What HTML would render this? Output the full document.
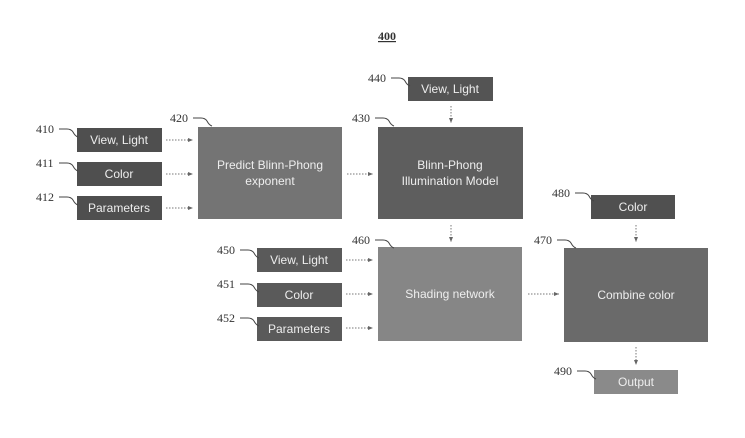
<!DOCTYPE html>
<html><head><style>
html,body{margin:0;padding:0;background:#fff;}
svg{display:block;}
.s{font-family:"Liberation Sans",sans-serif;font-size:12px;fill:#eee;text-anchor:middle;}
.n{font-family:"Liberation Serif",serif;font-size:12px;fill:#333;}
.l{fill:none;stroke:#444;stroke-width:1;}
.a{stroke:#777;stroke-width:1;stroke-dasharray:1.5 1.5;fill:none;}
</style></head><body>
<svg width="745" height="438" viewBox="0 0 745 438">
<defs><marker id="m" markerWidth="6" markerHeight="6" refX="5" refY="3" orient="auto"><path d="M0,1 L5,3 L0,5 z" fill="#666"/></marker></defs>
<text x="387" y="40" class="n" font-weight="bold" text-anchor="middle" font-size="11" text-decoration="underline">400</text>

<!-- boxes -->
<rect x="77" y="128" width="85" height="24" fill="#4f4f4f"/><text x="119" y="144" class="s">View, Light</text>
<rect x="77" y="162" width="85" height="24" fill="#4f4f4f"/><text x="119" y="178" class="s">Color</text>
<rect x="77" y="196" width="85" height="24" fill="#4f4f4f"/><text x="119" y="212" class="s">Parameters</text>
<rect x="198" y="127" width="144" height="92" fill="#747474"/>
<text x="270" y="169" class="s">Predict Blinn-Phong</text><text x="270" y="185" class="s">exponent</text>
<rect x="378" y="127" width="145" height="92" fill="#5e5e5e"/>
<text x="450" y="169" class="s">Blinn-Phong</text><text x="450" y="185" class="s">Illumination Model</text>
<rect x="408" y="77" width="85" height="24" fill="#545454"/><text x="450" y="93" class="s">View, Light</text>

<rect x="257" y="248" width="85" height="24" fill="#5a5a5a"/><text x="299" y="264" class="s">View, Light</text>
<rect x="257" y="283" width="85" height="24" fill="#5a5a5a"/><text x="299" y="299" class="s">Color</text>
<rect x="257" y="317" width="85" height="24" fill="#5a5a5a"/><text x="299" y="333" class="s">Parameters</text>
<rect x="378" y="247" width="144" height="94" fill="#868686"/><text x="450" y="298" class="s">Shading network</text>
<rect x="564" y="248" width="144" height="94" fill="#6a6a6a"/><text x="636" y="299" class="s">Combine color</text>
<rect x="591" y="195" width="84" height="24" fill="#505050"/><text x="633" y="211" class="s">Color</text>
<rect x="594" y="370" width="84" height="24" fill="#8a8a8a"/><text x="636" y="386" class="s">Output</text>

<!-- arrows -->
<line x1="166" y1="140" x2="193" y2="140" class="a" marker-end="url(#m)"/>
<line x1="166" y1="174" x2="193" y2="174" class="a" marker-end="url(#m)"/>
<line x1="166" y1="208" x2="193" y2="208" class="a" marker-end="url(#m)"/>
<line x1="347" y1="174" x2="373" y2="174" class="a" marker-end="url(#m)"/>
<line x1="451" y1="106" x2="451" y2="123" class="a" marker-end="url(#m)"/>
<line x1="451" y1="225" x2="451" y2="242" class="a" marker-end="url(#m)"/>
<line x1="346" y1="260" x2="373" y2="260" class="a" marker-end="url(#m)"/>
<line x1="346" y1="294" x2="373" y2="294" class="a" marker-end="url(#m)"/>
<line x1="346" y1="328" x2="373" y2="328" class="a" marker-end="url(#m)"/>
<line x1="528" y1="294" x2="559" y2="294" class="a" marker-end="url(#m)"/>
<line x1="636" y1="225" x2="636" y2="242" class="a" marker-end="url(#m)"/>
<line x1="636" y1="347" x2="636" y2="365" class="a" marker-end="url(#m)"/>

<!-- labels -->
<text x="36" y="133" class="n">410</text><path d="M59,129 h8 q4,0 6,3 q2,4 5,5" class="l"/>
<text x="36" y="167" class="n">411</text><path d="M59,163 h8 q4,0 6,3 q2,4 5,5" class="l"/>
<text x="36" y="201" class="n">412</text><path d="M59,197 h8 q4,0 6,3 q2,4 5,5" class="l"/>
<text x="170" y="122" class="n">420</text><path d="M193,118 h8 q4,0 6,3 q2,4 5,5" class="l"/>
<text x="352" y="122" class="n">430</text><path d="M375,118 h8 q4,0 6,3 q2,4 5,5" class="l"/>
<text x="368" y="82" class="n">440</text><path d="M391,78 h8 q4,0 6,3 q2,4 5,5" class="l"/>
<text x="217" y="254" class="n">450</text><path d="M240,250 h8 q4,0 6,3 q2,4 5,5" class="l"/>
<text x="217" y="288" class="n">451</text><path d="M240,284 h8 q4,0 6,3 q2,4 5,5" class="l"/>
<text x="217" y="322" class="n">452</text><path d="M240,318 h8 q4,0 6,3 q2,4 5,5" class="l"/>
<text x="352" y="244" class="n">460</text><path d="M375,240 h8 q4,0 6,3 q2,4 5,5" class="l"/>
<text x="534" y="244" class="n">470</text><path d="M557,240 h8 q4,0 6,3 q2,4 5,5" class="l"/>
<text x="552" y="197" class="n">480</text><path d="M575,193 h8 q4,0 6,3 q2,4 5,5" class="l"/>
<text x="554" y="375" class="n">490</text><path d="M577,371 h8 q4,0 6,3 q2,4 5,5" class="l"/>
</svg>
</body></html>
